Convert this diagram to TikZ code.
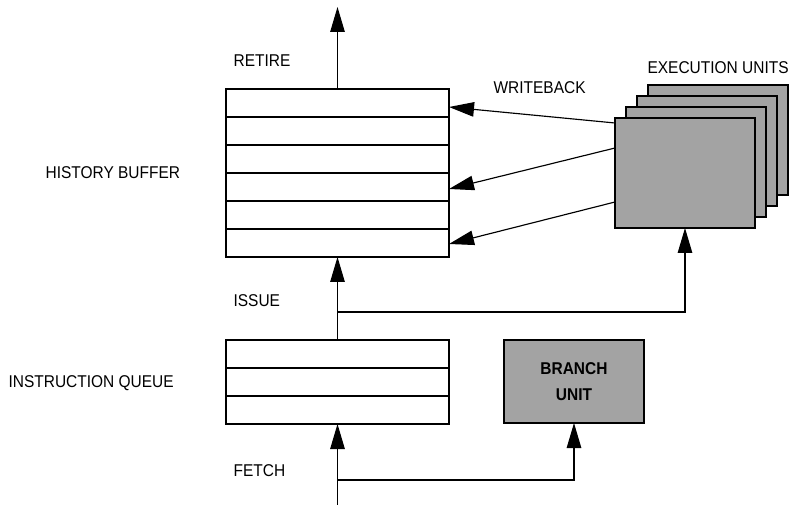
\documentclass[tikz,border=0pt]{standalone}
\usepackage{fontspec}
\usepackage{graphicx}
\setmainfont{Liberation Sans}
\usetikzlibrary{arrows.meta,calc}
\definecolor{shade}{gray}{0.64}
\newcommand{\tall}[1]{\scalebox{0.98}[1.08]{#1}}
\begin{document}
\begin{tikzpicture}[x=1pt,y=-1pt,
  line width=1.15pt,
  lbl/.style={anchor=base west,inner sep=0pt,font=\fontsize{15.8}{18}\selectfont},
  arr/.style={-{Triangle[length=25pt,width=14.5pt]}},
  buf/.style={draw,rectangle,inner sep=0pt,outer sep=0pt,minimum width=223pt},
  unitbox/.style={draw,rectangle,fill=shade,inner sep=0pt,outer sep=0pt,minimum width=140pt}]
\fill[white] (0,0) rectangle (796,505);
\useasboundingbox (0,0) rectangle (796,505);

% buffers
\node[buf,minimum height=168pt] (hb) at (337.5,173) {};
\foreach \i in {1,...,5}
  \draw ($(hb.north west)+(0,28*\i)$) -- ($(hb.north east)+(0,28*\i)$);
\node[buf,minimum height=84pt] (iq) at (337.5,382) {};
\foreach \i in {1,2}
  \draw ($(iq.north west)+(0,28*\i)$) -- ($(iq.north east)+(0,28*\i)$);

% execution units
\node[unitbox,minimum height=110pt] (eu4) at (718,140) {};
\node[unitbox,minimum height=110pt] (eu3) at (707,151) {};
\node[unitbox,minimum height=110pt] (eu2) at (696,162) {};
\node[unitbox,minimum height=110pt] (eu1) at (685,173) {};

% branch unit
\node[unitbox,minimum height=83pt,align=center,
      font=\fontsize{15.8}{26}\selectfont\bfseries] (bu) at (574,381.5) {\tall{BRANCH}\\\tall{UNIT}};

% labels
\node[lbl] (lretire) at (233,67) {\tall{RETIRE}};
\node[lbl] (lhb) at (45,179) {\tall{HISTORY BUFFER}};
\node[lbl] (liq) at (8,388) {\tall{INSTRUCTION QUEUE}};
\node[lbl] (lissue) at (233,307) {\tall{ISSUE}};
\node[lbl] (lfetch) at (233,476) {\tall{FETCH}};
\node[lbl] (lwb) at (493,94) {\tall{WRITEBACK}};
\node[lbl] (leu) at (647,74) {\tall{EXECUTION UNITS}};

% connectors
\coordinate (top) at (337.5,7);
\draw[arr] (hb.north) -- (top);
\draw[arr] (iq.north) -- (hb.south);
\coordinate (isj) at (337.5,312);
\draw[arr] (isj) -| (eu1.south);
\coordinate (fin) at (337.5,505);
\draw[arr] (fin) -- (iq.south);
\coordinate (fj) at (337.5,480);
\draw[arr] (fj) -| (bu.south);

\draw[arr] ($(eu1.north west)+(0,5)$) -- ($(hb.north east)+(0,18)$);
\draw[arr] ($(eu1.north west)+(0,30)$) -- ($(hb.north east)+(0,100)$);
\draw[arr] ($(eu1.north west)+(0,84)$) -- ($(hb.north east)+(0,155)$);
\end{tikzpicture}
\end{document}
